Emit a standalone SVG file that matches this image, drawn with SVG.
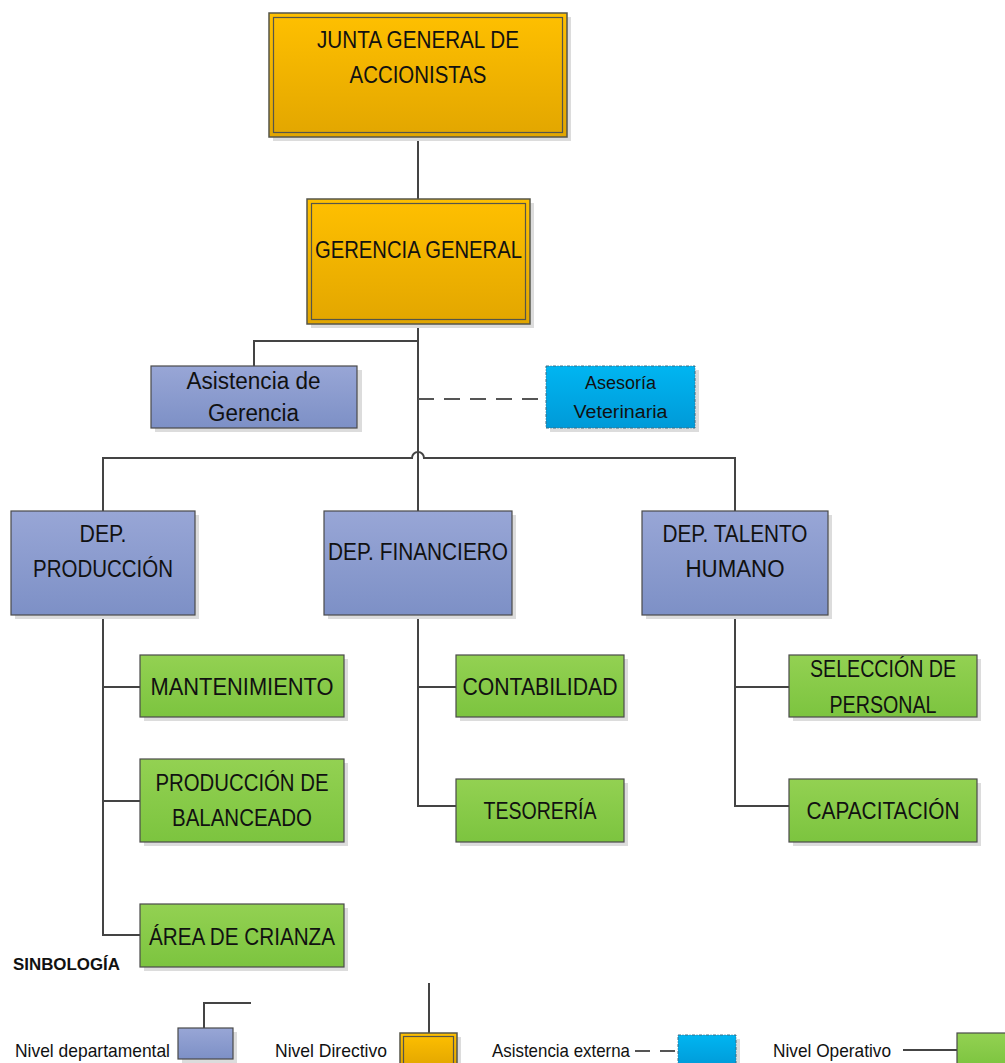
<svg xmlns="http://www.w3.org/2000/svg" width="1005" height="1063" viewBox="0 0 1005 1063">
  <defs>
    <linearGradient id="gGold" x1="0" y1="0" x2="0" y2="1">
      <stop offset="0" stop-color="#FFC000"/>
      <stop offset="1" stop-color="#E2A600"/>
    </linearGradient>
    <linearGradient id="gDept" x1="0" y1="0" x2="0" y2="1">
      <stop offset="0" stop-color="#98A6D6"/>
      <stop offset="1" stop-color="#7D90C6"/>
    </linearGradient>
    <linearGradient id="gCyan" x1="0" y1="0" x2="0" y2="1">
      <stop offset="0" stop-color="#00B5F1"/>
      <stop offset="1" stop-color="#009AD8"/>
    </linearGradient>
    <linearGradient id="gGreen" x1="0" y1="0" x2="0" y2="1">
      <stop offset="0" stop-color="#93D152"/>
      <stop offset="1" stop-color="#7CC43F"/>
    </linearGradient>
    <style>
      .shadow { fill: #DCDCDC; }
      .gold { fill: url(#gGold); stroke: #55554A; stroke-width: 1.5; }
      .goldIn { fill: none; stroke: #55554A; stroke-width: 1.2; }
      .dept { fill: url(#gDept); stroke: #4A4A4A; stroke-width: 1.2; }
      .cyan { fill: url(#gCyan); stroke: #3A6F86; stroke-width: 1; stroke-dasharray: 3 1.5 1 1.5; }
      .oper { fill: url(#gGreen); stroke: #4A4A4A; stroke-width: 1.2; }
      .lbl { font-family: "Liberation Sans", Arial, sans-serif; font-size: 23px; fill: #111; text-anchor: middle; }
      .sm { font-size: 18px; }
      .leg { font-family: "Liberation Sans", Arial, sans-serif; font-size: 19px; fill: #111; }
      .title { font-family: "Liberation Sans", Arial, sans-serif; font-size: 16px; font-weight: bold; fill: #111; }
      .wire { fill: none; stroke: #444; stroke-width: 2; }
      .dash { fill: none; stroke: #555; stroke-width: 2; stroke-dasharray: 16 10; }
    </style>
  </defs>

  <!-- connectors -->
  <g id="connectors">
    <path class="wire" d="M418 137 V199"/>
    <path class="wire" d="M418 324 V511"/>
    <path class="wire" d="M254 366 V341 H418"/>
    <path class="dash" d="M418 399 H546"/>
    <path class="wire" d="M103 511 V458 H412 A6 6 0 0 1 424 458 H735 V511"/>
    <path class="wire" d="M103 615 V935 H140 M103 687 H140 M103 801 H140"/>
    <path class="wire" d="M418 615 V806 H456 M418 687 H456"/>
    <path class="wire" d="M735 615 V806 H789 M735 687 H789"/>
  </g>

  <!-- directive level -->
  <g id="junta">
    <rect class="shadow" x="273" y="17" width="298" height="124"/>
    <rect class="gold" x="269" y="13" width="298" height="124"/>
    <rect class="goldIn" x="273.5" y="17.5" width="289" height="115"/>
    <text class="lbl" x="418" y="48" textLength="202" lengthAdjust="spacingAndGlyphs">JUNTA GENERAL DE</text>
    <text class="lbl" x="418" y="83" textLength="137" lengthAdjust="spacingAndGlyphs">ACCIONISTAS</text>
  </g>
  <g id="gerencia">
    <rect class="shadow" x="311" y="203" width="223" height="125"/>
    <rect class="gold" x="307" y="199" width="223" height="125"/>
    <rect class="goldIn" x="311.5" y="203.5" width="214" height="116"/>
    <text class="lbl" x="418.5" y="258" textLength="207" lengthAdjust="spacingAndGlyphs">GERENCIA GENERAL</text>
  </g>

  <!-- staff units -->
  <g id="asistencia">
    <rect class="shadow" x="155" y="370" width="207" height="62"/>
    <rect class="dept" x="151" y="366" width="206" height="62"/>
    <text class="lbl" x="253.5" y="389" textLength="134" lengthAdjust="spacingAndGlyphs">Asistencia de</text>
    <text class="lbl" x="253.5" y="421" textLength="91" lengthAdjust="spacingAndGlyphs">Gerencia</text>
  </g>
  <g id="asesoria">
    <rect class="shadow" x="550" y="370" width="149" height="62"/>
    <rect class="cyan" x="546" y="366" width="149" height="62"/>
    <text class="lbl sm" x="620.5" y="389" textLength="71" lengthAdjust="spacingAndGlyphs">Asesoría</text>
    <text class="lbl sm" x="620.5" y="418" textLength="94" lengthAdjust="spacingAndGlyphs">Veterinaria</text>
  </g>

  <!-- departments -->
  <g id="dep-produccion">
    <rect class="shadow" x="15" y="515" width="184" height="104"/>
    <rect class="dept" x="11" y="511" width="184" height="104"/>
    <text class="lbl" x="103" y="542" textLength="47" lengthAdjust="spacingAndGlyphs">DEP.</text>
    <text class="lbl" x="103" y="577" textLength="140" lengthAdjust="spacingAndGlyphs">PRODUCCIÓN</text>
  </g>
  <g id="dep-financiero">
    <rect class="shadow" x="328" y="515" width="188" height="104"/>
    <rect class="dept" x="324" y="511" width="188" height="104"/>
    <text class="lbl" x="418" y="560" textLength="180" lengthAdjust="spacingAndGlyphs">DEP. FINANCIERO</text>
  </g>
  <g id="dep-talento">
    <rect class="shadow" x="646" y="515" width="186" height="104"/>
    <rect class="dept" x="642" y="511" width="186" height="104"/>
    <text class="lbl" x="735" y="542" textLength="145" lengthAdjust="spacingAndGlyphs">DEP. TALENTO</text>
    <text class="lbl" x="735" y="577" textLength="99" lengthAdjust="spacingAndGlyphs">HUMANO</text>
  </g>

  <!-- operative units -->
  <g id="mantenimiento">
    <rect class="shadow" x="144" y="659" width="204" height="62"/>
    <rect class="oper" x="140" y="655" width="204" height="62"/>
    <text class="lbl" x="242" y="695" textLength="183" lengthAdjust="spacingAndGlyphs">MANTENIMIENTO</text>
  </g>
  <g id="balanceado">
    <rect class="shadow" x="144" y="763" width="204" height="83"/>
    <rect class="oper" x="140" y="759" width="204" height="83"/>
    <text class="lbl" x="242" y="791" textLength="173" lengthAdjust="spacingAndGlyphs">PRODUCCIÓN DE</text>
    <text class="lbl" x="242" y="826" textLength="140" lengthAdjust="spacingAndGlyphs">BALANCEADO</text>
  </g>
  <g id="crianza">
    <rect class="shadow" x="144" y="908" width="204" height="63"/>
    <rect class="oper" x="140" y="904" width="204" height="63"/>
    <text class="lbl" x="242" y="945" textLength="186" lengthAdjust="spacingAndGlyphs">ÁREA DE CRIANZA</text>
  </g>
  <g id="contabilidad">
    <rect class="shadow" x="460" y="659" width="168" height="62"/>
    <rect class="oper" x="456" y="655" width="168" height="62"/>
    <text class="lbl" x="540" y="695" textLength="155" lengthAdjust="spacingAndGlyphs">CONTABILIDAD</text>
  </g>
  <g id="tesoreria">
    <rect class="shadow" x="460" y="783" width="168" height="63"/>
    <rect class="oper" x="456" y="779" width="168" height="63"/>
    <text class="lbl" x="540" y="819" textLength="113" lengthAdjust="spacingAndGlyphs">TESORERÍA</text>
  </g>
  <g id="seleccion">
    <rect class="shadow" x="793" y="659" width="188" height="62"/>
    <rect class="oper" x="789" y="655" width="188" height="62"/>
    <text class="lbl" x="883" y="677" textLength="146" lengthAdjust="spacingAndGlyphs">SELECCIÓN DE</text>
    <text class="lbl" x="883" y="713" textLength="107" lengthAdjust="spacingAndGlyphs">PERSONAL</text>
  </g>
  <g id="capacitacion">
    <rect class="shadow" x="793" y="783" width="188" height="63"/>
    <rect class="oper" x="789" y="779" width="188" height="63"/>
    <text class="lbl" x="883" y="819" textLength="153" lengthAdjust="spacingAndGlyphs">CAPACITACIÓN</text>
  </g>

  <!-- legend -->
  <g id="legend">
    <text class="title" x="13" y="970" textLength="107" lengthAdjust="spacingAndGlyphs">SINBOLOGÍA</text>

    <text class="leg" x="15" y="1057" textLength="155" lengthAdjust="spacingAndGlyphs">Nivel departamental</text>
    <path class="wire" d="M204 1028 V1003 H251"/>
    <rect class="shadow" x="182" y="1032" width="55" height="31"/>
    <rect class="dept" x="178" y="1028" width="55" height="31"/>

    <text class="leg" x="275" y="1057" textLength="112" lengthAdjust="spacingAndGlyphs">Nivel Directivo</text>
    <path class="wire" d="M429 983 V1033"/>
    <rect class="shadow" x="404" y="1037" width="57" height="30"/>
    <rect class="gold" x="400" y="1033" width="57" height="34"/>
    <rect class="goldIn" x="403.5" y="1036.5" width="50" height="30"/>

    <text class="leg" x="492" y="1057" textLength="138" lengthAdjust="spacingAndGlyphs">Asistencia externa</text>
    <path class="dash" d="M635 1051 H675" style="stroke-dasharray: 15 10"/>
    <rect class="shadow" x="682" y="1039" width="58" height="28"/>
    <rect class="cyan" x="678" y="1035" width="58" height="32"/>

    <text class="leg" x="773" y="1057" textLength="118" lengthAdjust="spacingAndGlyphs">Nivel Operativo</text>
    <path class="wire" d="M903 1050 H957"/>
    <rect class="oper" x="957" y="1033" width="55" height="34"/>
  </g>
</svg>
